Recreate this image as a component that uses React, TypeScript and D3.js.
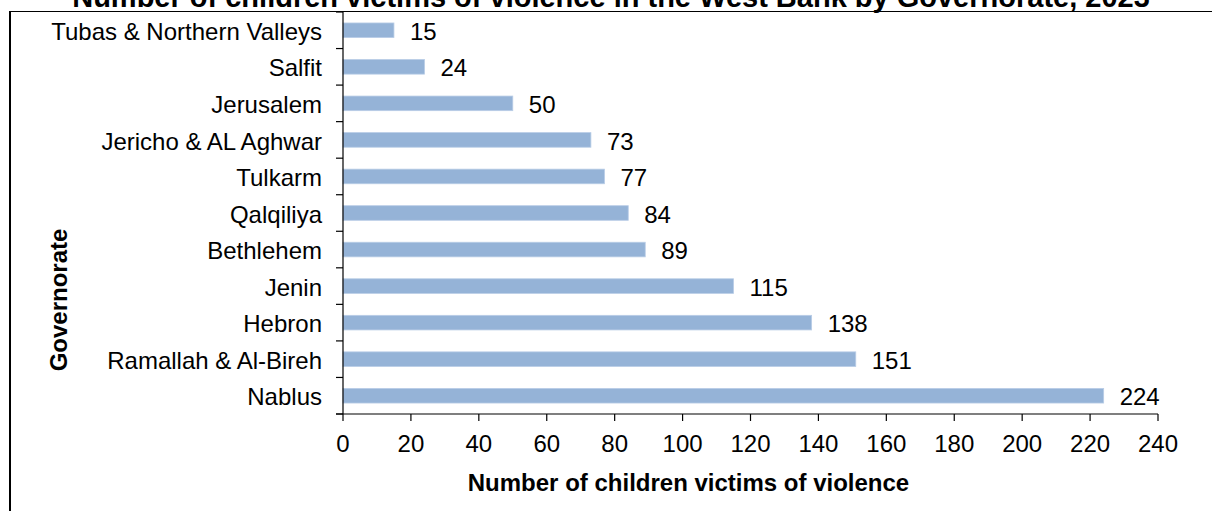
import React from "react";
import * as d3 from "d3";

const categories = [
  "Tubas & Northern Valleys",
  "Salfit",
  "Jerusalem",
  "Jericho & AL Aghwar",
  "Tulkarm",
  "Qalqiliya",
  "Bethlehem",
  "Jenin",
  "Hebron",
  "Ramallah & Al-Bireh",
  "Nablus",
];
const values = [15, 24, 50, 73, 77, 84, 89, 115, 138, 151, 224];
const xTicks = [0, 20, 40, 60, 80, 100, 120, 140, 160, 180, 200, 220, 240];
const title = "Number of children victims of violence in the West Bank by Governorate, 2023";
const xTitle = "Number of children victims of violence";
const yTitle = "Governorate";

const W = 1212;
const H = 511;
const FONT = "'Liberation Sans', Arial, Helvetica, sans-serif";
const FS = 24;

export default function App() {
  const x = d3.scaleLinear().domain([0, 240]).range([343, 1158]);
  const y = d3.scaleBand<string>().domain(categories).range([12, 414]).paddingInner(0).paddingOuter(0);
  const step = y.step();
  const barH = step / 2.5;
  const boundaries = d3.range(categories.length + 1).map((i) => 12 + i * step);

  return (
    <svg
      width={W}
      height={H}
      style={{ position: "absolute", left: 0, top: 0, background: "#fff" }}
      fontFamily={FONT}
    >
      <rect x={0} y={0} width={W} height={H} fill="#fff" />
      {/* frame */}
      <line x1={10} y1={11.5} x2={W} y2={11.5} stroke="#000" strokeWidth={1.2} />
      <line x1={10} y1={11} x2={10} y2={H} stroke="#000" strokeWidth={2} />
      {/* title (cut off) */}
      <text x={611} y={7} textAnchor="middle" fontWeight="bold" fontSize={29} fill="#000">
        {title}
      </text>
      {/* bars */}
      {categories.map((c, i) => {
        const yc = (y(c) as number) + step / 2;
        return (
          <g key={c}>
            <rect
              x={x(0)}
              y={yc - barH / 2}
              width={x(values[i]) - x(0)}
              height={barH}
              fill="#95B3D7"
              stroke="#B9CDE6"
              strokeWidth={0.8}
            />
            <text x={x(values[i]) + 16} y={yc} dy="0.4em" fontSize={FS} fill="#000">
              {values[i]}
            </text>
            <text x={322} y={yc} dy="0.4em" textAnchor="end" fontSize={FS} fill="#000">
              {c}
            </text>
          </g>
        );
      })}
      {/* y axis */}
      <line x1={343} y1={12} x2={343} y2={414} stroke="#000" strokeWidth={1.2} />
      {boundaries.map((b, i) => (
        <line key={i} x1={336} y1={b} x2={343} y2={b} stroke="#000" strokeWidth={1.2} />
      ))}
      {/* x axis */}
      <line x1={336} y1={414} x2={x(240)} y2={414} stroke="#000" strokeWidth={1.2} />
      {xTicks.map((t) => (
        <g key={t}>
          <line x1={x(t)} y1={414} x2={x(t)} y2={421} stroke="#000" strokeWidth={1.2} />
          <text x={x(t)} y={452} textAnchor="middle" fontSize={FS} fill="#000">
            {t}
          </text>
        </g>
      ))}
      <text x={688.5} y={491} textAnchor="middle" fontWeight="bold" fontSize={FS} fill="#000">
        {xTitle}
      </text>
      <text
        transform="translate(67,300) rotate(-90)"
        textAnchor="middle"
        fontWeight="bold"
        fontSize={FS}
        fill="#000"
      >
        {yTitle}
      </text>
    </svg>
  );
}
